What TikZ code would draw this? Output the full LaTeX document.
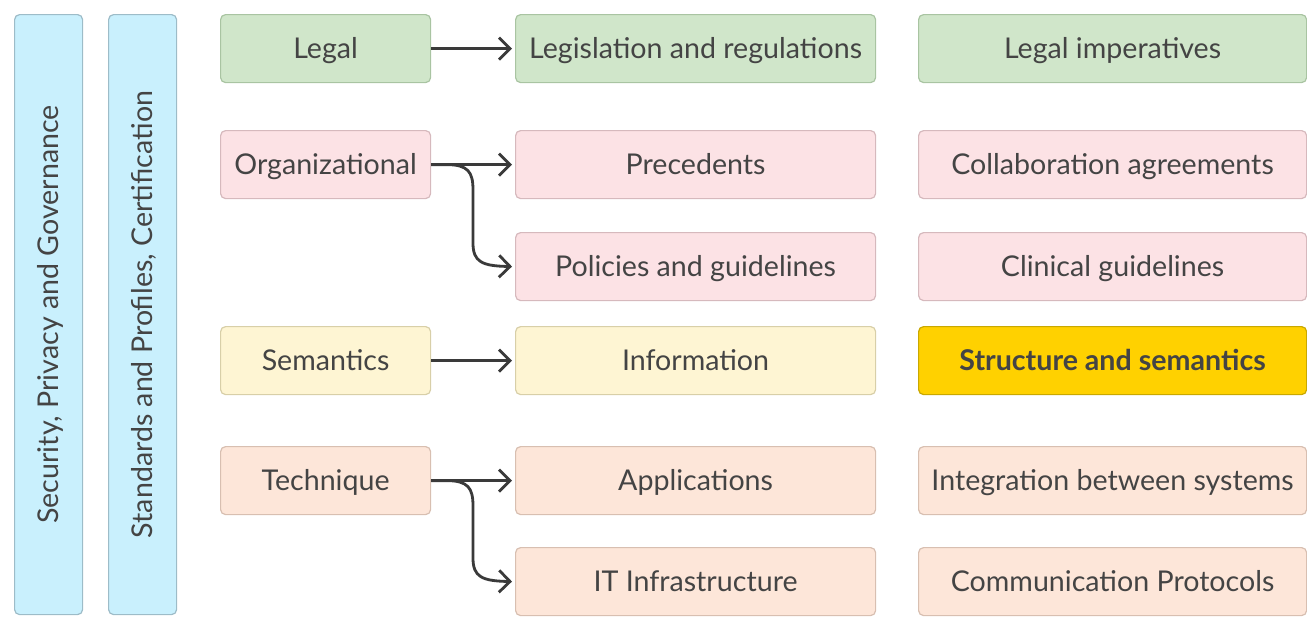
\documentclass[tikz,border=0pt]{standalone}
\usepackage{fontspec}
\setmainfont{Lato}
\usetikzlibrary{arrows.meta}
\definecolor{txt}{HTML}{444444}
\definecolor{gfill}{HTML}{D0E6CA}\definecolor{gdraw}{HTML}{A9C4A2}
\definecolor{pfill}{HTML}{FCE2E5}\definecolor{pdraw}{HTML}{D6B9BD}
\definecolor{yfill}{HTML}{FEF5D3}\definecolor{ydraw}{HTML}{D8CFA8}
\definecolor{ofill}{HTML}{FDE6D9}\definecolor{odraw}{HTML}{D8BFB1}
\definecolor{bfill}{HTML}{C9F0FD}\definecolor{bdraw}{HTML}{9DBCC8}
\definecolor{gold}{HTML}{FFD100}\definecolor{golddraw}{HTML}{C9A800}
\definecolor{arrc}{HTML}{3A3A3A}
\tikzset{
  lbl/.style={text=txt, font=\fontsize{14.3}{16}\selectfont, text height=10.3pt, text depth=0pt},
  box/.style={draw, line width=0.6pt, rounded corners=2.5pt, lbl, anchor=north west, inner sep=0pt},
  boxA/.style={box, minimum width=105pt, minimum height=34pt},
  boxB/.style={box, minimum width=180pt, minimum height=34pt},
  boxC/.style={box, minimum width=194pt, minimum height=34pt},
  bar/.style={box, minimum width=34pt, minimum height=300pt, fill=bfill, draw=bdraw},
  arr/.style={draw=arrc, line width=1.4pt, -{Straight Barb[length=5.5pt,width=11pt,line width=1.4pt]}, shorten >=1.5pt},
}
\begin{document}
\begin{tikzpicture}[x=0.5pt,y=-0.5pt]
\useasboundingbox (0,0) rectangle (1307,621);
% bars
\node[bar] (sec) at (14,14) {};
\node[rotate=90, lbl] (sect) at (sec.center) {Security, Privacy and Governance};
\node[bar] (std) at (108,14) {};
\node[rotate=90, lbl] (stdt) at (std.center) {Standards and Profiles, Certification};
% column A
\node[boxA, fill=gfill, draw=gdraw] (legal) at (220,14) {Legal};
\node[boxA, fill=pfill, draw=pdraw] (org) at (220,130) {Organizational};
\node[boxA, fill=yfill, draw=ydraw] (sem) at (220,326) {Semantics};
\node[boxA, fill=ofill, draw=odraw] (tech) at (220,446) {Technique};
% column B
\node[boxB, fill=gfill, draw=gdraw] (leg) at (515,14) {Legislation and regulations};
\node[boxB, fill=pfill, draw=pdraw] (prec) at (515,130) {Precedents};
\node[boxB, fill=pfill, draw=pdraw] (pol) at (515,232) {Policies and guidelines};
\node[boxB, fill=yfill, draw=ydraw] (info) at (515,326) {Information};
\node[boxB, fill=ofill, draw=odraw] (app) at (515,446) {Applications};
\node[boxB, fill=ofill, draw=odraw] (itinf) at (515,547) {IT Infrastructure};
% column C
\node[boxC, fill=gfill, draw=gdraw] (limp) at (918,14) {Legal imperatives};
\node[boxC, fill=pfill, draw=pdraw] (collab) at (918,130) {Collaboration agreements};
\node[boxC, fill=pfill, draw=pdraw] (clin) at (918,232) {Clinical guidelines};
\node[boxC, fill=gold, draw=golddraw, font=\fontsize{14.3}{16}\selectfont\bfseries] (struct) at (918,326) {Structure and semantics};
\node[boxC, fill=ofill, draw=odraw] (integ) at (918,446) {Integration between systems};
\node[boxC, fill=ofill, draw=odraw] (comm) at (918,547) {Communication Protocols};
% arrows
\draw[arr] (legal.east) -- (leg.west);
\draw[arr] (org.east) -- (prec.west);
\draw[arr] (org.east) -- ++(15,0) .. controls ++(22,0) and (473,172) .. (473,190) -- (473,243) .. controls (473,262) and (482,266) .. (pol.west);
\draw[arr] (sem.east) -- (info.west);
\draw[arr] (tech.east) -- (app.west);
\draw[arr] (tech.east) -- ++(15,0) .. controls ++(22,0) and (473,488) .. (473,506) -- (473,558) .. controls (473,577) and (482,581) .. (itinf.west);
\end{tikzpicture}
\end{document}
